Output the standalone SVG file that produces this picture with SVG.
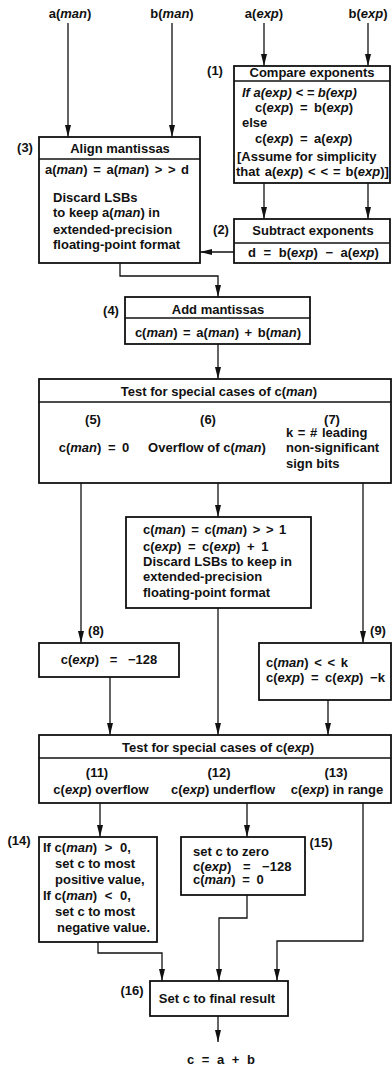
<svg xmlns="http://www.w3.org/2000/svg" width="392" height="1067" viewBox="0 0 392 1067">
<style>
text{font-family:"Liberation Sans",Arial,sans-serif;font-weight:bold;font-size:13px;fill:#111}
.c{text-anchor:middle}
.i{font-style:italic}
.w2{word-spacing:2px}
.w3{word-spacing:3px}
.w4{word-spacing:4px}
.w8{word-spacing:8px}
.box{fill:#fff;stroke:#111;stroke-width:1.8}
.div{stroke:#111;stroke-width:1.5}
.ln{fill:none;stroke:#111;stroke-width:1.3}
</style>
<defs>
<marker id="ar" markerUnits="userSpaceOnUse" viewBox="0 0 12 6" refX="12" refY="3" markerWidth="12" markerHeight="6" orient="auto">
<path d="M0,0 L12,3 L0,6 z" fill="#111"/>
</marker>
</defs>
<rect width="392" height="1067" fill="#fff"/>

<g id="inputs">
<text class="c" x="70" y="18">a(<tspan class="i">man</tspan>)</text>
<text class="c" x="172" y="18">b(<tspan class="i">man</tspan>)</text>
<text class="c" x="264" y="18">a(<tspan class="i">exp</tspan>)</text>
<text class="c" x="368" y="18">b(<tspan class="i">exp</tspan>)</text>
</g>

<g id="connectors">
<path class="ln" d="M68,23 V137" marker-end="url(#ar)"/>
<path class="ln" d="M172,23 V137" marker-end="url(#ar)"/>
<path class="ln" d="M264,23 V66" marker-end="url(#ar)"/>
<path class="ln" d="M368,23 V66" marker-end="url(#ar)"/>
<path class="ln" d="M264,183 V219" marker-end="url(#ar)"/>
<path class="ln" d="M368,183 V219" marker-end="url(#ar)"/>
<path class="ln" d="M234,252 H200" marker-end="url(#ar)"/>
<path class="ln" d="M120,263 V276 H218 V297" marker-end="url(#ar)"/>
<path class="ln" d="M218,344 V379" marker-end="url(#ar)"/>
<path class="ln" d="M81,483 V643" marker-end="url(#ar)"/>
<path class="ln" d="M218,483 V517" marker-end="url(#ar)"/>
<path class="ln" d="M363,483 V643" marker-end="url(#ar)"/>
<path class="ln" d="M110,677 V735" marker-end="url(#ar)"/>
<path class="ln" d="M218,608 V735" marker-end="url(#ar)"/>
<path class="ln" d="M328,700 V735" marker-end="url(#ar)"/>
<path class="ln" d="M100,803 V837" marker-end="url(#ar)"/>
<path class="ln" d="M247,803 V837" marker-end="url(#ar)"/>
<path class="ln" d="M363,803 V941 H277 V981" marker-end="url(#ar)"/>
<path class="ln" d="M247,895 V918 H219 V981" marker-end="url(#ar)"/>
<path class="ln" d="M98,942 V953 H162 V981" marker-end="url(#ar)"/>
<path class="ln" d="M218,1016 V1042" marker-end="url(#ar)"/>
</g>

<g id="n1">
<rect class="box" x="234" y="66" width="156" height="117"/>
<line class="div" x1="234" y1="81" x2="390" y2="81"/>
<text class="c" x="215" y="75">(1)</text>
<text class="c" x="312" y="77">Compare exponents</text>
<text x="242" y="97" class="i">If a(exp) &lt; = b(exp)</text>
<text x="255" y="112" class="w3">c(<tspan class="i">exp</tspan>) = b(<tspan class="i">exp</tspan>)</text>
<text x="242" y="127">else</text>
<text x="255" y="143" class="w3">c(<tspan class="i">exp</tspan>) = a(<tspan class="i">exp</tspan>)</text>
<text x="237" y="161">[Assume for simplicity</text>
<text x="236" y="176" style="word-spacing:1.3px">that a(<tspan class="i">exp</tspan>) &lt; &lt; = b(<tspan class="i">exp</tspan>)]</text>
</g>

<g id="n2">
<rect class="box" x="234" y="219" width="156" height="44"/>
<line class="div" x1="234" y1="243" x2="390" y2="243"/>
<text class="c" x="221" y="234">(2)</text>
<text class="c" x="313" y="235">Subtract exponents</text>
<text x="248" y="257" class="w4">d = b(<tspan class="i">exp</tspan>) − a(<tspan class="i">exp</tspan>)</text>
</g>

<g id="n3">
<rect class="box" x="39" y="137" width="161" height="126"/>
<line class="div" x1="39" y1="159" x2="200" y2="159"/>
<text class="c" x="25" y="152">(3)</text>
<text class="c" x="120" y="153">Align mantissas</text>
<text x="45" y="174" class="w2">a(<tspan class="i">man</tspan>) = a(<tspan class="i">man</tspan>) &gt; &gt; d</text>
<text x="53" y="202">Discard LSBs</text>
<text x="53" y="217">to keep a(<tspan class="i">man</tspan>) in</text>
<text x="53" y="234">extended-precision</text>
<text x="53" y="249">floating-point format</text>
</g>

<g id="n4">
<rect class="box" x="125" y="297" width="185" height="47"/>
<line class="div" x1="125" y1="318" x2="310" y2="318"/>
<text class="c" x="111" y="315">(4)</text>
<text class="c" x="218" y="314">Add mantissas</text>
<text class="c w2" x="218" y="337">c(<tspan class="i">man</tspan>) = a(<tspan class="i">man</tspan>) + b(<tspan class="i">man</tspan>)</text>
</g>

<g id="testman">
<rect class="box" x="39" y="379" width="352" height="104"/>
<line class="div" x1="39" y1="402" x2="391" y2="402"/>
<text class="c" x="219" y="396">Test for special cases of c(<tspan class="i">man</tspan>)</text>
<text class="c" x="93" y="424">(5)</text>
<text class="c" x="208" y="424">(6)</text>
<text class="c" x="332" y="424">(7)</text>
<text class="c w3" x="94" y="452">c(<tspan class="i">man</tspan>) = 0</text>
<text class="c" x="207" y="452">Overflow of c(<tspan class="i">man</tspan>)</text>
<text x="286" y="437" style="word-spacing:1px">k = # leading</text>
<text x="286" y="452">non-significant</text>
<text x="286" y="468">sign bits</text>
</g>

<g id="n6">
<rect class="box" x="126" y="517" width="185" height="91"/>
<text x="143" y="534" class="w2">c(<tspan class="i">man</tspan>) = c(<tspan class="i">man</tspan>) &gt; &gt; 1</text>
<text x="143" y="551" class="w3">c(<tspan class="i">exp</tspan>) = c(<tspan class="i">exp</tspan>) + 1</text>
<text x="143" y="566">Discard LSBs to keep in</text>
<text x="143" y="581">extended-precision</text>
<text x="143" y="597">floating-point format</text>
</g>

<g id="n8">
<rect class="box" x="39" y="643" width="140" height="34"/>
<text class="c" x="96" y="635">(8)</text>
<text class="c" x="109" y="664" style="word-spacing:7px">c(<tspan class="i">exp</tspan>) = −128</text>
</g>

<g id="n9">
<rect class="box" x="259" y="643" width="132" height="57"/>
<text class="c" x="378" y="635">(9)</text>
<text x="266" y="667" class="w2">c(<tspan class="i">man</tspan>) &lt; &lt; k</text>
<text x="266" y="682" class="w3">c(<tspan class="i">exp</tspan>) = c(<tspan class="i">exp</tspan>) −k</text>
</g>

<g id="testexp">
<rect class="box" x="39" y="735" width="352" height="68"/>
<line class="div" x1="39" y1="758" x2="391" y2="758"/>
<text class="c" x="218" y="752">Test for special cases of c(<tspan class="i">exp</tspan>)</text>
<text class="c" x="97" y="777">(11)</text>
<text class="c" x="101" y="794">c(<tspan class="i">exp</tspan>) overflow</text>
<text class="c" x="219" y="777">(12)</text>
<text class="c" x="223" y="794">c(<tspan class="i">exp</tspan>) underflow</text>
<text class="c" x="336" y="777">(13)</text>
<text class="c" x="337" y="794">c(<tspan class="i">exp</tspan>) in range</text>
</g>

<g id="n14">
<rect class="box" x="39" y="837" width="118" height="105"/>
<text class="c" x="19" y="845">(14)</text>
<text x="43" y="852">If <tspan style="word-spacing:4px">c(<tspan class="i">man</tspan>) &gt; 0,</tspan></text>
<text x="55" y="868">set c to most</text>
<text x="55" y="884">positive value,</text>
<text x="43" y="900">If <tspan style="word-spacing:4px">c(<tspan class="i">man</tspan>) &lt; 0,</tspan></text>
<text x="55" y="916">set c to most</text>
<text x="57" y="932">negative value.</text>
</g>

<g id="n15">
<rect class="box" x="181" y="837" width="124" height="58"/>
<text class="c" x="321" y="847">(15)</text>
<text x="193" y="856">set c to zero</text>
<text x="193" y="871" class="w8">c(<tspan class="i">exp</tspan>) = −128</text>
<text x="193" y="884" class="w3">c(<tspan class="i">man</tspan>) = 0</text>
</g>

<g id="n16">
<rect class="box" x="150" y="981" width="138" height="35"/>
<text class="c" x="132" y="995">(16)</text>
<text class="c" x="217" y="1003">Set c to final result</text>
</g>

<g id="output">
<text class="c w4" x="221" y="1064">c = a + b</text>
</g>
</svg>
